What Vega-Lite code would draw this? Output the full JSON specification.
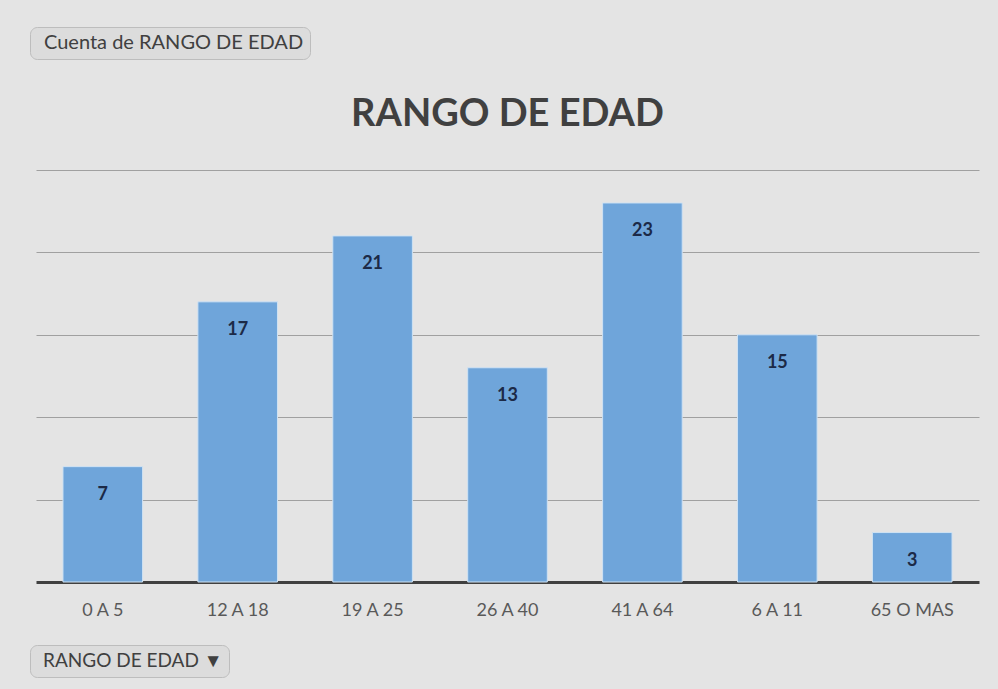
{
  "$schema": "https://vega.github.io/schema/vega-lite/v6.json",
  "autosize": {"type": "none"},
  "width": 943,
  "height": 412,
  "padding": {"left": 36, "top": 170, "right": 19, "bottom": 107},
  "background": "#e4e4e4",
  "title": {
    "text": "RANGO DE EDAD",
    "font": "Lato",
    "fontSize": 38,
    "fontWeight": "bold",
    "color": "#404040",
    "anchor": "middle",
    "offset": 0,
    "dy": 107
  },
  "data": {
    "values": [
      {"rango": "0 A 5", "cuenta": 7, "serie": "Cuenta de RANGO DE EDAD", "campo": "RANGO DE EDAD ▼"},
      {"rango": "12 A 18", "cuenta": 17, "serie": "Cuenta de RANGO DE EDAD", "campo": "RANGO DE EDAD ▼"},
      {"rango": "19 A 25", "cuenta": 21, "serie": "Cuenta de RANGO DE EDAD", "campo": "RANGO DE EDAD ▼"},
      {"rango": "26 A 40", "cuenta": 13, "serie": "Cuenta de RANGO DE EDAD", "campo": "RANGO DE EDAD ▼"},
      {"rango": "41 A 64", "cuenta": 23, "serie": "Cuenta de RANGO DE EDAD", "campo": "RANGO DE EDAD ▼"},
      {"rango": "6 A 11", "cuenta": 15, "serie": "Cuenta de RANGO DE EDAD", "campo": "RANGO DE EDAD ▼"},
      {"rango": "65 O MAS", "cuenta": 3, "serie": "Cuenta de RANGO DE EDAD", "campo": "RANGO DE EDAD ▼"}
    ]
  },
  "encoding": {
    "x": {
      "field": "rango",
      "type": "nominal",
      "sort": null,
      "scale": {"paddingInner": 0.41, "paddingOuter": 0.2},
      "axis": {
        "title": null,
        "labelAngle": 0,
        "labelFont": "Lato",
        "labelFontSize": 18,
        "labelColor": "#595959",
        "labelPadding": 19,
        "ticks": false,
        "domainColor": "#404040",
        "domainWidth": 3
      }
    },
    "y": {
      "field": "cuenta",
      "type": "quantitative",
      "scale": {"domain": [0, 25], "nice": false},
      "axis": {
        "title": null,
        "labels": false,
        "ticks": false,
        "domain": false,
        "values": [5, 10, 15, 20, 25],
        "gridColor": "#a0a0a0",
        "gridWidth": 1
      }
    }
  },
  "layer": [
    {
      "mark": {"type": "bar", "stroke": "#cfe2f3", "strokeWidth": 1},
      "encoding": {
        "color": {
          "field": "serie",
          "type": "nominal",
          "scale": {"range": ["#6fa5da"]},
          "legend": {
            "orient": "none",
            "legendX": -6,
            "legendY": -143,
            "title": null,
            "symbolSize": 0,
            "symbolOpacity": 0,
            "symbolStrokeWidth": 0,
            "labelOffset": -12,
            "labelLimit": 500,
            "labelFont": "Lato",
            "labelFontSize": 20,
            "labelColor": "#404040",
            "fillColor": "#dcdcdc",
            "strokeColor": "#bdbdbd",
            "cornerRadius": 7,
            "padding": 6
          }
        }
      }
    },
    {
      "mark": {
        "type": "text",
        "baseline": "middle",
        "dy": 28,
        "font": "Lato",
        "fontSize": 18,
        "fontWeight": "bold",
        "color": "#1c2a47"
      },
      "encoding": {
        "text": {"field": "cuenta", "type": "quantitative"},
        "opacity": {
          "field": "campo",
          "type": "nominal",
          "scale": {"range": [1, 1]},
          "legend": {
            "orient": "none",
            "legendX": -6,
            "legendY": 475,
            "title": null,
            "symbolSize": 0,
            "symbolOpacity": 0,
            "symbolStrokeWidth": 0,
            "labelOffset": -12,
            "labelLimit": 500,
            "labelFont": "Lato",
            "labelFontSize": 19,
            "labelColor": "#404040",
            "fillColor": "#dcdcdc",
            "strokeColor": "#bdbdbd",
            "cornerRadius": 7,
            "padding": 6
          }
        }
      }
    }
  ],
  "config": {
    "view": {"stroke": null}
  }
}
